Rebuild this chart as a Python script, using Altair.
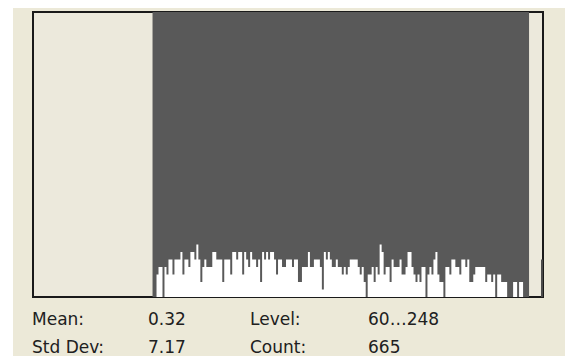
import altair as alt
import pandas as pd

# Histogram counts for levels 60..248 (selected range)
first_level = 60
counts = [
    0, 0, 3, 4, 4, 0, 4, 3, 5, 5, 3, 5, 5, 5, 6, 3, 5, 5, 4, 6, 6, 5, 7, 5, 2, 4, 5, 4, 4, 4,
    6, 6, 5, 5, 5, 2, 5, 5, 5, 3, 6, 6, 5, 6, 6, 3, 6, 5, 4, 6, 5, 5, 4, 5, 2, 6, 5, 6, 5, 6, 6, 5,
    3, 5, 5, 4, 4, 5, 5, 5, 4, 5, 5, 2, 2, 4, 4, 4, 6, 4, 4, 5, 5, 5, 4, 1, 6, 5, 6, 5, 4, 4, 5, 4,
    4, 3, 4, 3, 4, 5, 5, 5, 5, 4, 3, 4, 2, 0, 3, 3, 4, 2, 4, 3, 7, 6, 3, 4, 4, 2, 5, 4, 4, 4, 5, 3,
    3, 4, 6, 6, 4, 3, 2, 3, 2, 4, 4, 0, 3, 4, 3, 5, 6, 3, 2, 2, 0, 4, 4, 3, 5, 5, 4, 4, 3, 5, 5, 4,
    5, 2, 2, 3, 4, 4, 4, 4, 4, 2, 3, 3, 2, 3, 0, 3, 3, 2, 2, 2, 0, 0, 0, 2, 2, 0, 2, 2, 0, 0, 0,
]
# selected level range (start, end exclusive)
range_start = [60]
range_end = [249]
# bars outside the selection
outside_levels = [255]
outside_counts = [5]

stat_texts = ["Mean:", "0.32", "Level:", "60\u2026248", "Std Dev:", "7.17", "Count:", "665"]

W, H = 510, 285
XDOM = [0, 256]
YDOM = [0, 38]

levels = list(range(first_level, first_level + len(counts)))
# step outline: each level holds its count until the next level; closes at range end
df_hist = pd.DataFrame({"level": levels + [range_end[0]], "count": counts + [0]})
df_out = pd.DataFrame({"level": outside_levels, "level_end": [l + 1 for l in outside_levels],
                       "count": outside_counts})
df_range = pd.DataFrame({"start": range_start, "end": range_end})

xs = alt.Scale(domain=XDOM, nice=False, zero=False)
ys = alt.Scale(domain=YDOM, nice=False, zero=True)

sel = alt.Chart(df_range).mark_rect(color="#595959").encode(
    x=alt.X("start:Q", scale=xs, axis=None),
    x2="end:Q",
    y=alt.value(0),
    y2=alt.value(H),
)

bars = alt.Chart(df_hist).mark_area(color="#ffffff", interpolate="step-after", opacity=1).encode(
    x=alt.X("level:Q", scale=xs, axis=None),
    y=alt.Y("count:Q", scale=ys, axis=None),
)

out_bars = alt.Chart(df_out).mark_rect(color="#4a4a4a").encode(
    x=alt.X("level:Q", scale=xs, axis=None),
    x2="level_end:Q",
    y=alt.Y("count:Q", scale=ys, axis=None),
    y2=alt.datum(0),
)

# text layout (pixels relative to plot area)
col_x = [-1, 115, 217, 335]
row_y = [313, 341]
texts = []
for i, t in enumerate(stat_texts):
    r, c = divmod(i, 4)
    texts.append(
        alt.Chart(pd.DataFrame({"t": [t]})).mark_text(
            align="left", baseline="alphabetic", font="DejaVu Sans", fontSize=17, color="#202020"
        ).encode(x=alt.value(col_x[c]), y=alt.value(row_y[r]), text="t:N")
    )

strip = alt.Chart(pd.DataFrame({"a": [0]})).mark_rect(color="#ffffff").encode(
    x=alt.value(-25), x2=alt.value(-20), y=alt.value(-4), y2=alt.value(H + 59)
)

chart = alt.layer(sel, bars, out_bars, strip, *texts).properties(
    width=W,
    height=H,
    background="#ECE9D8",
    padding={"left": 25, "top": 4, "right": 22, "bottom": 59},
    autosize=alt.AutoSizeParams(type="none"),
).configure_view(
    fill="#ECE9DC", stroke="#1a1a1a", strokeWidth=2
)

chart.save("out.html", embed_options={"renderer": "svg", "actions": False})
